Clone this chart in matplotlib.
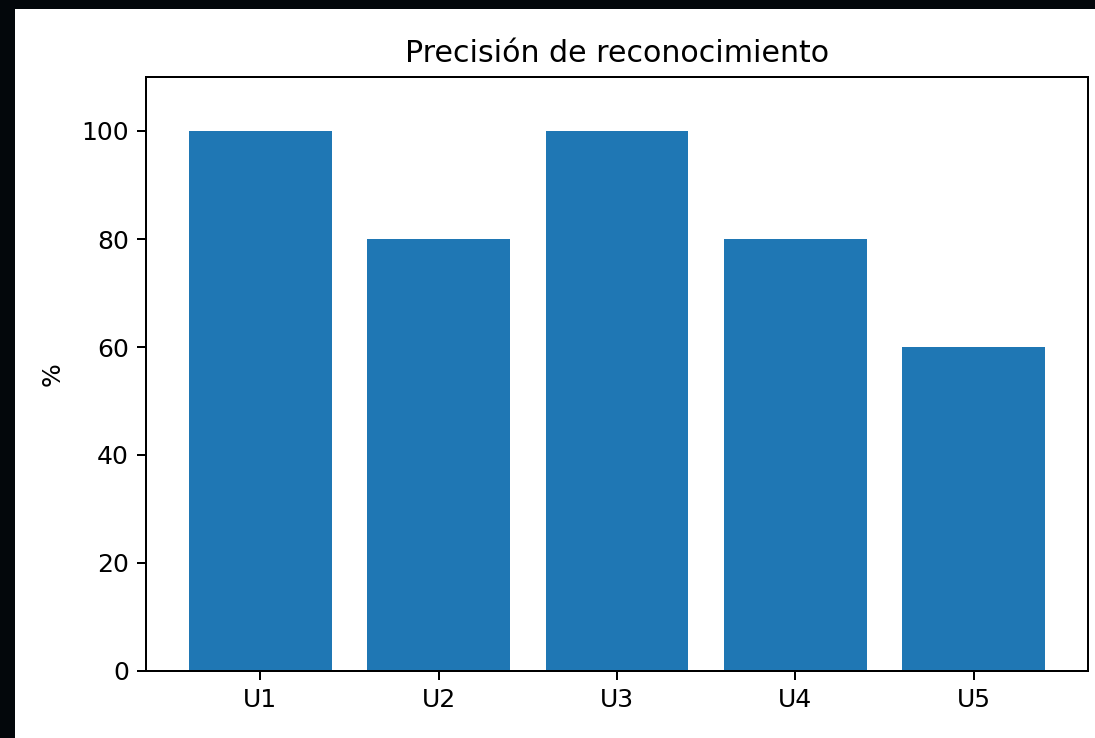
import matplotlib
matplotlib.use("Agg")
import matplotlib.pyplot as plt
from matplotlib.patches import Rectangle

# --- Data ---
usuarios = ["U1", "U2", "U3", "U4", "U5"]
precision = [100, 80, 100, 80, 60]

W, H = 1095, 738
fig = plt.figure(figsize=(W / 100, H / 100), dpi=100, facecolor="#03070b")

# white canvas of the screenshot over the dark backdrop
fig.patches.append(Rectangle((15 / W, 0), 1 - 15 / W, (H - 9) / H,
                             transform=fig.transFigure, facecolor="white",
                             edgecolor="none", zorder=-10))

ax = fig.add_axes([146 / W, 1 - 671 / H, (1088 - 146) / W, (671 - 77) / H])
ax.set_zorder(1)
ax.bar(usuarios, precision, width=0.8, color="#1f77b4")
ax.set_ylim(0, 110)
ax.set_title("Precisión de reconocimiento", fontsize=21.6, pad=11)
ax.set_ylabel("%", fontsize=18, labelpad=12)
ax.tick_params(labelsize=18, length=6.3, width=1.44, pad=6)
for s in ax.spines.values():
    s.set_linewidth(1.44)

fig.savefig("out.png", dpi=100, facecolor=fig.get_facecolor())
